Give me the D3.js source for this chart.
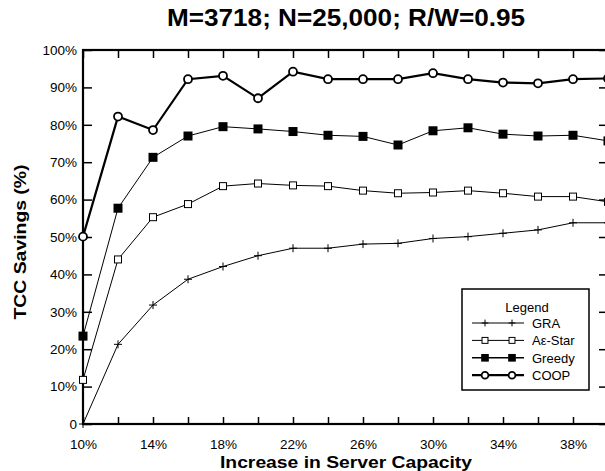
<!DOCTYPE html>
<html lang="en">
<head>
  <script src="https://d3js.org/d3.v7.min.js"></script>
  <style>
    body { margin: 0; background: #fff; }
    text { font-family: "Liberation Sans", Arial, sans-serif; fill: #000; }
  </style>
</head>
<body>
  <svg width=605 height=471></svg>
  <script>
    // capacity increase (%)
    var capacity = [10, 12, 14, 16, 18, 20, 22, 24, 26, 28, 30, 32, 34, 36, 38, 40];
    var gra    = [0, 21.3, 31.8, 38.7, 42.1, 45.0, 47.0, 47.0, 48.1, 48.3, 49.6, 50.1, 51.0, 51.9, 53.8, 53.8];
    var aeStar = [11.8, 44.0, 55.3, 58.8, 63.6, 64.3, 63.8, 63.6, 62.4, 61.7, 61.9, 62.4, 61.7, 60.8, 60.8, 59.4];
    var greedy = [23.5, 57.7, 71.3, 77.0, 79.5, 78.9, 78.2, 77.2, 76.9, 74.6, 78.4, 79.2, 77.5, 77.0, 77.2, 75.7];
    var coop   = [50.1, 82.2, 78.6, 92.2, 93.1, 87.1, 94.2, 92.2, 92.2, 92.2, 93.8, 92.2, 91.3, 91.1, 92.2, 92.4];
    var xTicks = [10, 12, 14, 16, 18, 20, 22, 24, 26, 28, 30, 32, 34, 36, 38, 40];
    var xLabels = [10, 14, 18, 22, 26, 30, 34, 38];
    var yTicks = [0, 10, 20, 30, 40, 50, 60, 70, 80, 90, 100];
    var seriesNames = ["GRA", "A\u03b5-Star", "Greedy", "COOP"];

    var svg = d3.select("svg");
    var x = d3.scaleLinear().domain([10, 40]).range([83, 608]);
    var y = d3.scaleLinear().domain([0, 100]).range([424, 50]);

    // axes, ticks point inwards
    svg.append("g").attr("transform", "translate(0,424)")
      .call(d3.axisBottom(x).tickValues(xTicks).tickSize(-7).tickPadding(15)
        .tickFormat(function (d) { return xLabels.indexOf(d) >= 0 ? d + "%" : ""; }));
    svg.append("g").attr("transform", "translate(0,50)")
      .call(d3.axisTop(x).tickValues(xTicks).tickSize(-8).tickFormat(""));
    svg.append("g").attr("transform", "translate(83,0)")
      .call(d3.axisLeft(y).tickValues(yTicks).tickSize(-9).tickPadding(6)
        .tickFormat(function (d) { return d == 0 ? "0" : d + "%"; }));
    svg.append("g").attr("transform", "translate(607,0)")
      .call(d3.axisRight(y).tickValues(yTicks).tickSize(-8).tickFormat(""));
    svg.selectAll(".domain").remove();
    svg.selectAll(".tick line").attr("stroke", "#000").attr("stroke-width", 1.5);
    svg.selectAll(".tick text").style("font-size", "13.5px").style("font-family", "'Liberation Sans', Arial, sans-serif");

    svg.append("rect").attr("x", 83).attr("y", 50).attr("width", 524).attr("height", 374)
      .attr("fill", "none").attr("stroke", "#000").attr("stroke-width", 2.2);

    var line = d3.line().x(function (d, i) { return x(capacity[i]); }).y(function (d) { return y(d); });

    function plus(g, cx, cy, s) {
      g.append("path").attr("d", "M" + (cx - s) + "," + cy + "H" + (cx + s) + "M" + cx + "," + (cy - s) + "V" + (cy + s))
        .attr("stroke", "#000").attr("stroke-width", 1).attr("fill", "none");
    }
    function markers(k, g, cx, cy, sc) {
      if (k == 0) plus(g, cx, cy, 4 * sc);
      if (k == 1) g.append("rect").attr("x", cx - 3.5 * sc).attr("y", cy - 3.5 * sc).attr("width", 7 * sc).attr("height", 7 * sc)
        .attr("fill", "#fff").attr("stroke", "#000").attr("stroke-width", 1);
      if (k == 2) g.append("rect").attr("x", cx - 4.5 * sc).attr("y", cy - 4.5 * sc).attr("width", 9 * sc).attr("height", 9 * sc).attr("fill", "#000");
      if (k == 3) g.append("circle").attr("cx", cx).attr("cy", cy).attr("r", 4 * sc)
        .attr("fill", "#fff").attr("stroke", "#000").attr("stroke-width", 1.8);
    }
    var widths = [1, 1, 1, 2.2];
    var allSeries = [gra, aeStar, greedy, coop];

    allSeries.forEach(function (s, k) {
      var g = svg.append("g");
      g.append("path").datum(s).attr("d", line).attr("fill", "none").attr("stroke", "#000").attr("stroke-width", widths[k]);
      s.forEach(function (v, i) { markers(k, g, x(capacity[i]), y(v), 1); });
    });

    // legend
    var lg = svg.append("g");
    lg.append("rect").attr("x", 462).attr("y", 289).attr("width", 127).attr("height", 101)
      .attr("fill", "#fff").attr("stroke", "#000").attr("stroke-width", 1.5);
    lg.append("text").attr("x", 527).attr("y", 312).attr("text-anchor", "middle").style("font-size", "13px").text("Legend");
    seriesNames.forEach(function (name, k) {
      var ly = 323 + k * 17.4;
      lg.append("line").attr("x1", 472).attr("x2", 524).attr("y1", ly).attr("y2", ly)
        .attr("stroke", "#000").attr("stroke-width", k == 2 ? 1.6 : widths[k]);
      markers(k, lg, 485, ly, 0.85);
      markers(k, lg, 512, ly, 0.85);
      lg.append("text").attr("x", 532).attr("y", ly + 5).style("font-size", "13px").text(name);
    });

    svg.append("text").attr("x", 346).attr("y", 26).attr("text-anchor", "middle")
      .attr("textLength", 358).attr("lengthAdjust", "spacingAndGlyphs")
      .style("font-size", "23px").style("font-weight", "bold").text("M=3718; N=25,000; R/W=0.95");
    svg.append("text").attr("x", 346).attr("y", 468).attr("text-anchor", "middle")
      .attr("textLength", 252).attr("lengthAdjust", "spacingAndGlyphs")
      .style("font-size", "16px").style("font-weight", "bold").text("Increase in Server Capacity");
    svg.append("text").attr("transform", "translate(26,242) rotate(-90)").attr("text-anchor", "middle")
      .attr("textLength", 155).attr("lengthAdjust", "spacingAndGlyphs")
      .style("font-size", "16px").style("font-weight", "bold").text("TCC Savings (%)");
  </script>
</body>
</html>
